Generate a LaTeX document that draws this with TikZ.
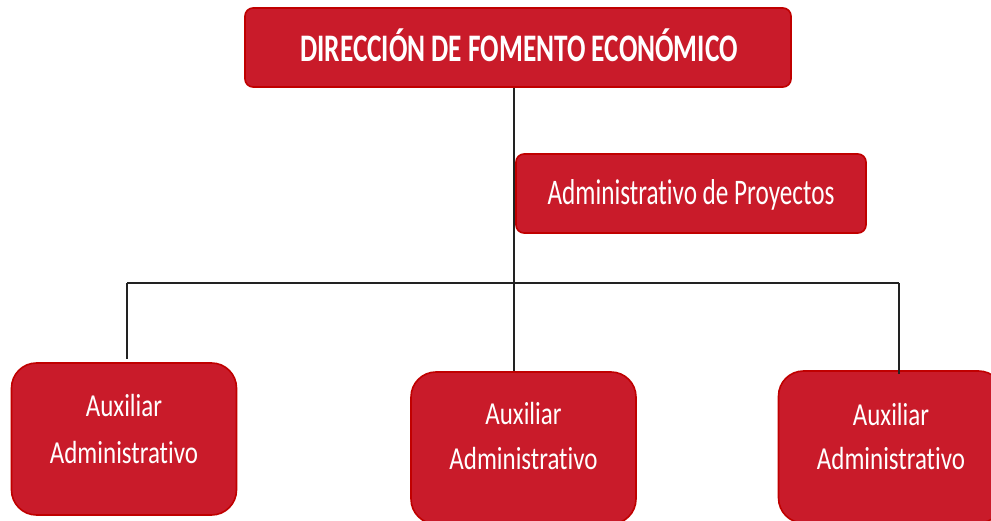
\documentclass[tikz,border=0pt]{standalone}
\usepackage{graphicx}
\usepackage{fontspec}
\setmainfont[Ligatures=NoCommon]{Carlito}
\newcommand\hsq[2]{\scalebox{#1}[1]{#2}}
\definecolor{boxred}{HTML}{C91B2A}
\definecolor{boxedge}{HTML}{C00000}
\definecolor{linegray}{HTML}{222222}
\tikzset{
  redbox/.style={draw=boxedge, line width=1.6pt, fill=boxred, inner sep=0pt},
  boxtxt/.style={text=white, anchor=base, inner sep=0pt},
  conn/.style={draw=linegray, line width=1.2pt}
}
\begin{document}
\begin{tikzpicture}[x=1pt,y=-1pt]
\useasboundingbox (0,0) rectangle (991,521);
\clip (0,0) rectangle (991,521);
\node[redbox, rounded corners=8pt, minimum width=546pt, minimum height=79pt] (top) at (518,47.5) {};
\node[redbox, rounded corners=8pt, minimum width=350pt, minimum height=79pt] (proj) at (691,193.5) {};
\node[redbox, rounded corners=25pt, minimum width=225pt, minimum height=152pt] (aux1) at (124,439) {};
\node[redbox, rounded corners=25pt, minimum width=225pt, minimum height=152pt] (aux2) at (523.5,448) {};
\node[redbox, rounded corners=25pt, minimum width=225pt, minimum height=152pt] (aux3) at (891,447) {};
\node[boxtxt, font=\fontsize{39}{39}\selectfont\bfseries] (ttop) at (519,62) {\hsq{0.7}{DIRECCIÓN DE FOMENTO ECONÓMICO}};
\node[boxtxt, font=\fontsize{36}{36}\selectfont] (tproj) at (691,205) {\hsq{0.7}{Administrativo de Proyectos}};
\node[boxtxt, font=\fontsize{32}{32}\selectfont] (ta1) at (124,417) {\hsq{0.78}{Auxiliar}};
\node[boxtxt, font=\fontsize{32}{32}\selectfont] (tb1) at (124,463) {\hsq{0.78}{Administrativo}};
\node[boxtxt, font=\fontsize{32}{32}\selectfont] (ta2) at (523.5,424) {\hsq{0.78}{Auxiliar}};
\node[boxtxt, font=\fontsize{32}{32}\selectfont] (tb2) at (523.5,469) {\hsq{0.78}{Administrativo}};
\node[boxtxt, font=\fontsize{32}{32}\selectfont] (ta3) at (891,425) {\hsq{0.78}{Auxiliar}};
\node[boxtxt, font=\fontsize{32}{32}\selectfont] (tb3) at (891,469) {\hsq{0.78}{Administrativo}};
\coordinate (jm) at (514,283);
\coordinate (jl) at (127,283);
\coordinate (jr) at (899,283);
\draw[conn] (jm |- top.south) -- (jm |- aux2.north);
\draw[conn] (jl) -- (jr);
\draw[conn] (jl) -- ([yshift=3pt]jl |- aux1.north);
\draw[conn] (jr) -- ([yshift=-4pt]jr |- aux3.north);
\end{tikzpicture}
\end{document}
